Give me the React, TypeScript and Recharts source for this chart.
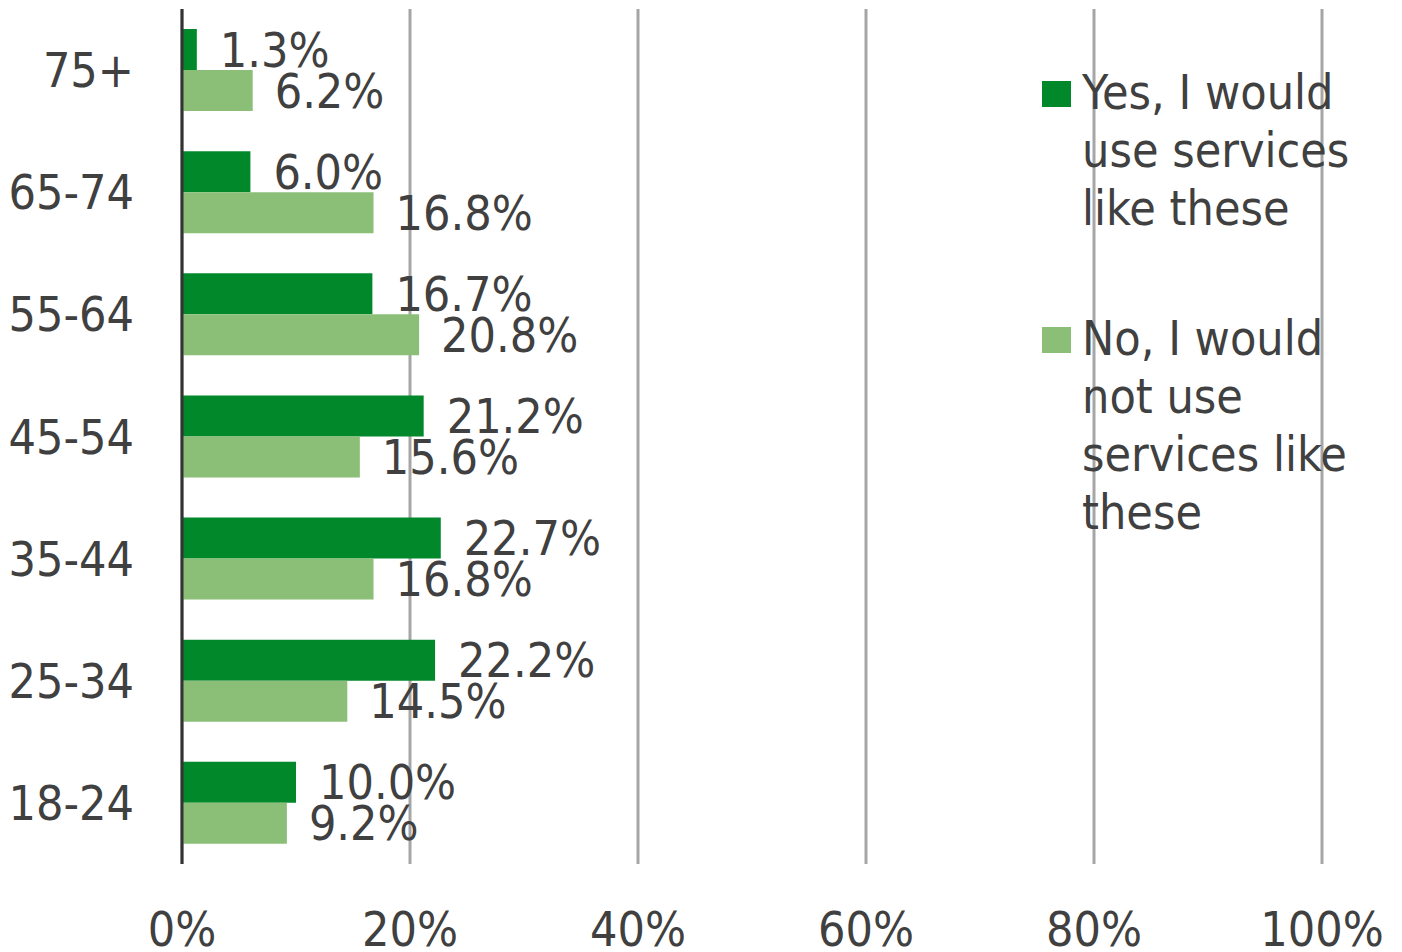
import { BarChart, Bar, XAxis, YAxis, CartesianGrid, LabelList } from "recharts";

const ageGroups = ["75+", "65-74", "55-64", "45-54", "35-44", "25-34", "18-24"];
const yesValues = [1.3, 6.0, 16.7, 21.2, 22.7, 22.2, 10.0];
const noValues = [6.2, 16.8, 20.8, 15.6, 16.8, 14.5, 9.2];
const xTicks = [0, 20, 40, 60, 80, 100];

const yesName = "Yes, I would use services like these";
const noName = "No, I would not use services like these";

const data = ageGroups.map((age, i) => ({
  age,
  yes: yesValues[i],
  no: noValues[i],
}));

const FONT = '"DejaVu Sans Condensed", "DejaVu Sans", Tahoma, sans-serif';
const TEXT = "#404040";
const DARK = "#00882B";
const LIGHT = "#8BBF78";

const legendItems = [
  { name: yesName, color: DARK, top: 63 },
  { name: noName, color: LIGHT, top: 309 },
];

export default function App() {
  return (
    <div style={{ position: "fixed", left: 0, top: 0, width: 1402, height: 952, background: "#fff", fontFamily: FONT }}>
      <BarChart
        width={1402}
        height={952}
        data={data}
        layout="vertical"
        margin={{ top: 9, right: 80, bottom: 0, left: 0 }}
        barGap={0}
        barSize={41}
      >
        <CartesianGrid horizontal={false} stroke="#A6A6A6" strokeWidth={3} />
        <XAxis
          type="number"
          domain={[0, 100]}
          ticks={xTicks}
          tickFormatter={(v) => `${v}%`}
          axisLine={false}
          tickLine={false}
          tickSize={0}
          tickMargin={48}
          height={88}
          tick={{ fontSize: 48, fill: TEXT, fontFamily: FONT }}
          interval={0}
        />
        <YAxis
          type="category"
          dataKey="age"
          width={182}
          axisLine={{ stroke: "#333", strokeWidth: 3 }}
          tickLine={false}
          tickSize={0}
          tickMargin={48}
          tick={{ fontSize: 48, fill: TEXT, fontFamily: FONT }}
        />
        <Bar dataKey="yes" name={yesName} fill={DARK} isAnimationActive={false}>
          <LabelList
            dataKey="yes"
            position="right"
            offset={23}
            formatter={(v: any) => `${Number(v).toFixed(1)}%`}
            style={{ fontSize: 48, fill: TEXT, fontFamily: FONT }}
          />
        </Bar>
        <Bar dataKey="no" name={noName} fill={LIGHT} isAnimationActive={false}>
          <LabelList
            dataKey="no"
            position="right"
            offset={22}
            formatter={(v: any) => `${Number(v).toFixed(1)}%`}
            style={{ fontSize: 48, fill: TEXT, fontFamily: FONT }}
          />
        </Bar>
      </BarChart>
      {legendItems.map((item) => (
        <div
          key={item.name}
          style={{ position: "absolute", left: 1042, top: item.top, display: "flex", alignItems: "flex-start" }}
        >
          <div style={{ width: 29, height: 26, background: item.color, marginTop: 18, marginRight: 11, flexShrink: 0 }} />
          <div style={{ width: 272, fontSize: 48, lineHeight: "58px", color: TEXT }}>{item.name}</div>
        </div>
      ))}
    </div>
  );
}
